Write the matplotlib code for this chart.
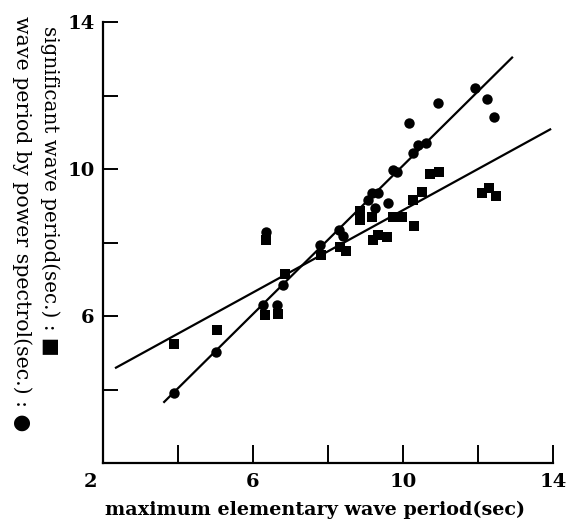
import matplotlib
matplotlib.use("Agg")
import matplotlib.pyplot as plt
import matplotlib.transforms as mtransforms
import numpy as np
from matplotlib.ticker import FixedLocator, FuncFormatter

# ---- data ----
circle_x = [3.9, 5.0, 6.26, 6.63, 6.35, 6.79, 7.79, 8.28, 8.39, 9.07, 9.25,
            9.16, 9.34, 9.61, 9.72, 9.85, 10.27, 10.41, 10.61, 10.16, 10.94,
            11.92, 12.23, 12.43]
circle_y = [3.9, 5.02, 6.30, 6.30, 8.29, 6.84, 7.93, 8.34, 8.18, 9.16, 8.93,
            9.34, 9.36, 9.07, 9.96, 9.93, 10.43, 10.65, 10.72, 11.24, 11.79,
            12.20, 11.90, 11.42]

square_x = [3.9, 5.05, 6.32, 6.67, 6.35, 6.85, 7.80, 8.32, 8.48, 8.85, 8.85,
            9.16, 9.21, 9.34, 9.56, 9.74, 9.98, 10.28, 10.26, 10.50, 10.72,
            10.96, 12.12, 12.30, 12.48]
square_y = [5.25, 5.62, 6.03, 6.05, 8.07, 7.14, 7.66, 7.89, 7.77, 8.85, 8.61,
            8.70, 8.07, 8.20, 8.16, 8.70, 8.69, 8.45, 9.16, 9.38, 9.86,
            9.93, 9.34, 9.49, 9.27]

# fitted lines (slope, intercept, x-range)
circle_fit = (1.01, -0.006)
circle_fit_x = [3.61, 12.93]
square_fit = (0.56, 3.28)
square_fit_x = [2.32, 13.95]

x_ticks = [2, 4, 6, 8, 10, 12, 14]
x_ticklabels = {2: "2", 6: "6", 10: "10", 14: "14"}
y_ticks = [2, 4, 6, 8, 10, 12, 14]
y_ticklabels = {6: "6", 10: "10", 14: "14"}

x_label = "maximum elementary wave period(sec)"
y_label_1 = "significant wave period(sec.) : \u25A0"
y_label_2 = "wave period by power spectrol(sec.) : \u25CF"

# ---- figure ----
W, H = 569, 520
fig = plt.figure(figsize=(W / 100, H / 100), dpi=100)
ax = fig.add_axes([103 / W, 1 - 463 / H, (553 - 103) / W, (463 - 22) / H])

serif = ["DejaVu Serif", "DejaVu Sans"]

for (m, b), xr in ((circle_fit, circle_fit_x), (square_fit, square_fit_x)):
    xs = np.array(xr)
    ax.plot(xs, m * xs + b, color="black", lw=1.6, solid_capstyle="butt")

ax.plot(circle_x, circle_y, "o", color="black", markersize=7.5, markeredgewidth=0)
ax.plot(square_x, square_y, "s", color="black", markersize=7.2, markeredgewidth=0)

ax.set_xlim(2, 14)
ax.set_ylim(2, 14)
for s in ("top", "right"):
    ax.spines[s].set_visible(False)
for s in ("left", "bottom"):
    ax.spines[s].set_linewidth(1.6)

ax.xaxis.set_major_locator(FixedLocator(x_ticks))
ax.yaxis.set_major_locator(FixedLocator(y_ticks))
ax.xaxis.set_major_formatter(FuncFormatter(lambda v, p: x_ticklabels.get(int(round(v)), "")))
ax.yaxis.set_major_formatter(FuncFormatter(lambda v, p: y_ticklabels.get(int(round(v)), "")))
ax.tick_params(axis="x", direction="in", length=13, width=1.4, pad=7)
ax.tick_params(axis="y", direction="in", length=11, width=1.4, pad=6)
for lab in ax.get_xticklabels() + ax.get_yticklabels():
    lab.set_fontfamily(serif)
    lab.set_fontweight("bold")
    lab.set_fontsize(14)

# the "2" label sits a little left of its tick in the reference
first = ax.get_xticklabels()[0]
first.set_transform(first.get_transform() +
                    mtransforms.ScaledTranslation(-13 / 100, 0, fig.dpi_scale_trans))

ax.set_xlabel(x_label, family=serif, fontweight="bold", fontsize=13.8)
ax.xaxis.set_label_coords(0.472, -0.085)

fig.text(50 / W, 1 - 26 / H, y_label_1, rotation=270, va="top", ha="center",
         family=serif, fontweight="normal", fontsize=14.3)
fig.text(22 / W, 1 - 16 / H, y_label_2, rotation=270, va="top", ha="center",
         family=serif, fontweight="normal", fontsize=14.8)

fig.savefig("out.png", dpi=100)
